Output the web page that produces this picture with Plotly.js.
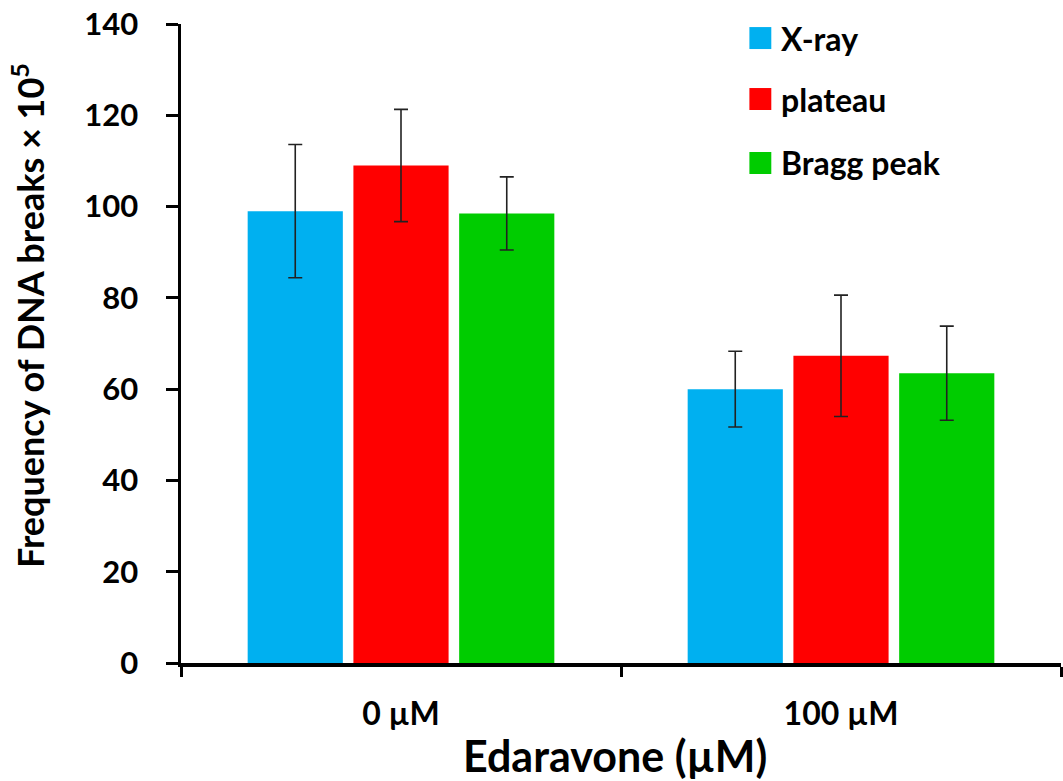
<!DOCTYPE html>
<html>
<head>
<meta charset="utf-8">
<script src="https://cdn.plot.ly/plotly-3.0.1.min.js"></script>
<style>html,body{margin:0;padding:0;background:#fff;}#chart{width:1063px;height:781px;}</style>
</head>
<body>
<div id="chart"></div>
<script>
// ---- data ----
const categories = ["0 µM", "100 µM"];
const seriesNames = ["X-ray", "plateau", "Bragg peak"];
const xrayValues = [99, 60];
const xrayErrors = [14.6, 8.3];
const plateauValues = [109, 67.3];
const plateauErrors = [12.3, 13.3];
const braggValues = [98.5, 63.5];
const braggErrors = [8, 10.3];
const seriesColors = ["#00B0F0", "#FF0000", "#00CC00"];

const values = [xrayValues, plateauValues, braggValues];
const errors = [xrayErrors, plateauErrors, braggErrors];

const FONT = "Lato, 'Open Sans', sans-serif";

const traces = seriesNames.map((name, i) => ({
  type: "bar",
  name: name,
  x: categories,
  y: values[i],
  marker: {color: seriesColors[i]},
  error_y: {type: "data", array: errors[i], visible: true, color: "#222", thickness: 1.6, width: 7},
  showlegend: false
}));

// manual legend (larger squares like the reference)
const legendY = [0.978, 0.8826, 0.7825];
const shapes = [];
const annotations = [];
seriesNames.forEach((name, i) => {
  shapes.push({type: "rect", xref: "paper", yref: "paper",
    x0: 0.6459, x1: 0.6708, y0: legendY[i] - 0.0172, y1: legendY[i] + 0.0172,
    fillcolor: seriesColors[i], line: {width: 0}});
  annotations.push({xref: "paper", yref: "paper", x: 0.680, y: legendY[i],
    xanchor: "left", yanchor: "middle", showarrow: false, text: name,
    font: {family: FONT, size: 32, color: "#000", weight: 700}});
});
annotations.push({xref: "paper", yref: "paper", x: 0, y: 0.543, xshift: -153,
  xanchor: "center", yanchor: "middle", showarrow: false, textangle: -90,
  text: "Frequency of DNA breaks × 10<sup>5</sup>",
  font: {family: FONT, size: 36, color: "#000", weight: 700}});
annotations.push({xref: "paper", yref: "paper", x: 0.493, y: 0, yshift: -92,
  xanchor: "center", yanchor: "middle", showarrow: false,
  text: "Edaravone (µM)",
  font: {family: FONT, size: 43, color: "#000", weight: 700}});

const layout = {
  width: 1063, height: 781,
  margin: {l: 181, r: 2, t: 24, b: 118},
  paper_bgcolor: "#fff", plot_bgcolor: "#fff",
  barmode: "group", bargap: 0.279, bargroupgap: 0.1,
  showlegend: false,
  xaxis: {
    type: "category", range: [-0.5, 1.5],
    showline: true, linecolor: "#000", linewidth: 3.5,
    ticks: "outside", tickson: "boundaries", ticklen: 10, tickwidth: 3, tickcolor: "#000",
    showgrid: false, zeroline: false,
    ticklabelstandoff: 20,
    tickfont: {family: FONT, size: 32, color: "#000", weight: 700}
  },
  yaxis: {
    range: [0, 140], dtick: 20, tick0: 0,
    showline: true, linecolor: "#000", linewidth: 3.5,
    ticks: "outside", ticklen: 12, tickwidth: 3, tickcolor: "#000",
    showgrid: false, zeroline: false,
    ticklabelstandoff: 21,
    tickfont: {family: FONT, size: 31, color: "#000", weight: 700}
  },
  shapes: shapes,
  annotations: annotations
};

Plotly.newPlot("chart", traces, layout, {displayModeBar: false, staticPlot: true});
</script>
</body>
</html>
